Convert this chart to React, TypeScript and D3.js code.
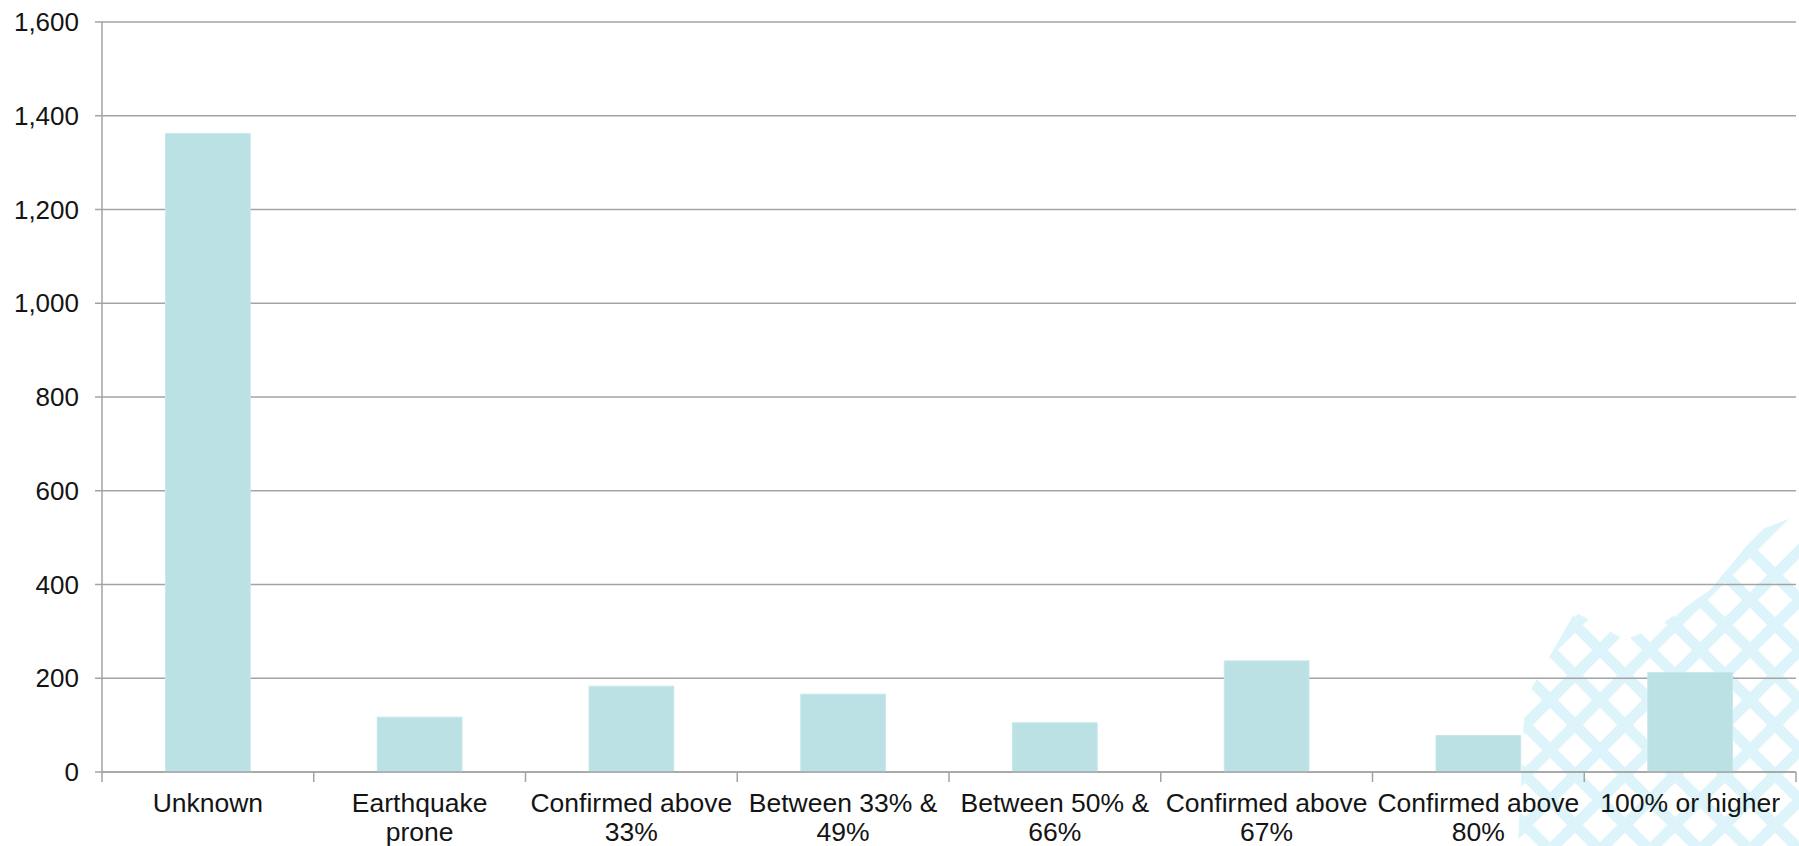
import React from "react";
import * as d3 from "d3";

const categories: string[][] = [
  ["Unknown"],
  ["Earthquake", "prone"],
  ["Confirmed above", "33%"],
  ["Between 33% &", "49%"],
  ["Between 50% &", "66%"],
  ["Confirmed above", "67%"],
  ["Confirmed above", "80%"],
  ["100% or higher"],
];
const values: number[] = [1362, 117, 183, 166, 105, 237, 78, 212];
const yTicks: number[] = [0, 200, 400, 600, 800, 1000, 1200, 1400, 1600];

const W = 1799;
const H = 846;
const left = 102;
const right = 1796;
const top = 22;
const bottom = 772;

export default function App() {
  const keys = categories.map((_, i) => String(i));
  const x = d3.scaleBand<string>().domain(keys).range([left, right]).paddingInner(0.6).paddingOuter(0.3);
  const y = d3.scaleLinear().domain([0, 1600]).range([bottom, top]);
  const fmt = d3.format(",");
  const step = x.step();

  // decorative lattice in the bottom-right corner
  const stripes1: number[] = d3.range(1300, 2800, 50);
  const stripes2: number[] = d3.range(-1200, 400, 50);

  return (
    <svg
      width={W}
      height={H}
      style={{ position: "absolute", left: 0, top: 0, background: "#fff" }}
      fontFamily="'Liberation Sans', Arial, sans-serif"
    >
      <defs>
        <clipPath id="decoClip">
          <polygon points="1518,846 1525,700 1575,612 1625,640 1660,625 1710,590 1760,530 1799,515 1799,846" />
        </clipPath>
      </defs>
      <g clipPath="url(#decoClip)" stroke="#ddf4fb" strokeWidth={11}>
        {stripes1.map((c) => (
          <line key={"a" + c} x1={c - 500} y1={500} x2={c - 900} y2={900} />
        ))}
        {stripes2.map((c) => (
          <line key={"b" + c} x1={1300} y1={1300 + c} x2={1900} y2={1900 + c} />
        ))}
      </g>

      {/* gridlines */}
      {yTicks.map((t) => (
        <line
          key={"g" + t}
          x1={left - 7}
          x2={right}
          y1={y(t)}
          y2={y(t)}
          stroke="#a3a3a3"
          strokeWidth={1.5}
        />
      ))}

      {/* bars */}
      {values.map((v, i) => (
        <rect
          key={"r" + i}
          x={x(String(i))!}
          y={y(v)}
          width={x.bandwidth()}
          height={y(0) - y(v)}
          fill="#bbe1e4"
          stroke="#c6e8ea"
          strokeWidth={1}
        />
      ))}

      {/* y axis */}
      <line x1={left} x2={left} y1={top} y2={bottom} stroke="#a3a3a3" strokeWidth={1.5} />
      {yTicks.map((t) => (
        <text
          key={"yl" + t}
          x={79}
          y={y(t)}
          textAnchor="end"
          dominantBaseline="central"
          fontSize={26}
          fill="#141414"
        >
          {fmt(t)}
        </text>
      ))}

      {/* x axis */}
      <line x1={left} x2={right} y1={bottom} y2={bottom} stroke="#a3a3a3" strokeWidth={1.5} />
      {d3.range(categories.length + 1).map((i) => (
        <line
          key={"xt" + i}
          x1={left + i * step}
          x2={left + i * step}
          y1={bottom}
          y2={bottom + 10}
          stroke="#a3a3a3"
          strokeWidth={1.5}
        />
      ))}
      {categories.map((lines, i) => (
        <text
          key={"xl" + i}
          x={x(String(i))! + x.bandwidth() / 2}
          y={812}
          textAnchor="middle"
          fontSize={26.5}
          fill="#141414"
        >
          {lines.map((ln, j) => (
            <tspan key={j} x={x(String(i))! + x.bandwidth() / 2} dy={j === 0 ? 0 : 29}>
              {ln}
            </tspan>
          ))}
        </text>
      ))}
    </svg>
  );
}
